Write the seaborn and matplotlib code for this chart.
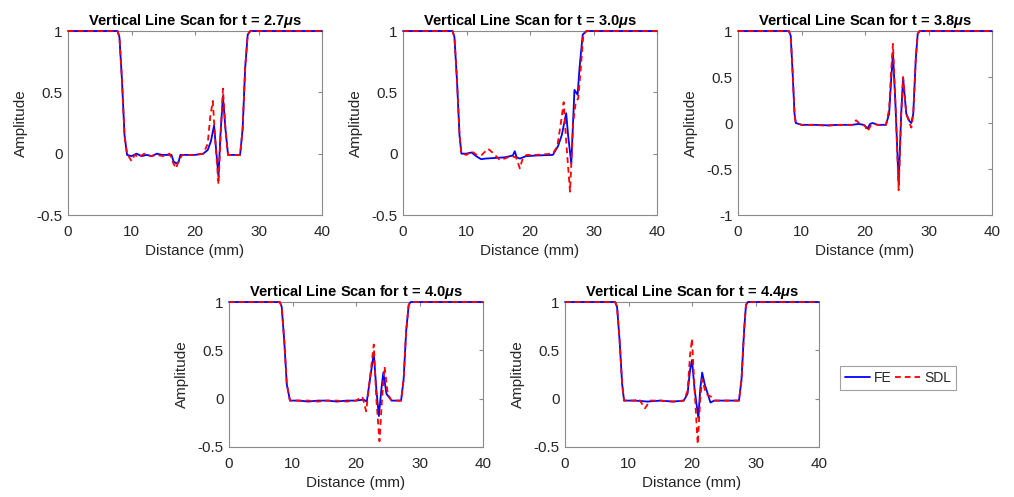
import numpy as np
import pandas as pd
import seaborn as sns
import matplotlib
matplotlib.use("Agg")
import matplotlib.pyplot as plt

# ---------------- data ----------------
titles = [r"Vertical Line Scan for t = 2.7$\mu$s",
          r"Vertical Line Scan for t = 3.0$\mu$s",
          r"Vertical Line Scan for t = 3.8$\mu$s",
          r"Vertical Line Scan for t = 4.0$\mu$s",
          r"Vertical Line Scan for t = 4.4$\mu$s"]

# t = 2.7 us
fe_x_27 = [0, 7.8, 8.1, 8.5, 8.9, 9.3, 10.0, 10.8, 11.6, 12.4, 13.2, 14.0, 14.8, 15.6, 16.3, 16.6, 17.0, 17.4, 17.7,
           18.5, 20.0, 21.3, 22.0, 22.5, 23.0, 23.3, 23.7, 24.0, 24.4, 24.8, 25.2, 27.1, 27.5, 27.9, 28.3, 28.7, 40]
fe_y_27 = [1, 1, 0.95, 0.6, 0.15, -0.01, -0.02, 0.0, -0.02, -0.01, -0.02, 0.0, -0.01, -0.01, -0.01, -0.06, -0.08,
           -0.07, -0.01, -0.01, -0.01, 0.0, 0.03, 0.1, 0.23, 0.05, -0.19, 0.15, 0.47, 0.2, -0.01, -0.01, 0.2, 0.7,
           0.97, 1, 1]
sdl_x_27 = [0, 7.8, 8.1, 8.5, 8.9, 9.3, 10.0, 10.5, 11.2, 12.0, 13.0, 14.0, 15.0, 16.0, 16.6, 17.0, 17.5, 18.0,
            20.0, 21.3, 22.0, 22.4, 22.8, 23.2, 23.7, 24.0, 24.4, 24.8, 25.2, 27.1, 27.5, 27.9, 28.3, 28.7, 40]
sdl_y_27 = [1, 1, 0.95, 0.6, 0.15, 0.0, -0.06, -0.01, -0.03, 0.0, -0.02, -0.01, -0.02, 0.0, -0.08, -0.12, -0.05,
            -0.01, -0.01, 0.0, 0.08, 0.3, 0.43, 0.1, -0.25, 0.1, 0.53, 0.2, -0.01, -0.01, 0.2, 0.7, 0.97, 1, 1]

# t = 3.0 us
fe_x_30 = [0, 7.8, 8.1, 8.5, 8.9, 9.2, 10.0, 10.8, 11.5, 12.3, 13.0, 14.5, 16.0, 17.3, 17.6, 17.9, 18.4, 19.4,
           21.0, 23.6, 24.4, 25.0, 25.7, 26.0, 26.5, 27.0, 27.5, 27.8, 28.3, 28.9, 40]
fe_y_30 = [1, 1, 0.95, 0.6, 0.15, 0.0, 0.0, 0.01, -0.02, -0.045, -0.04, -0.035, -0.03, -0.015, 0.02, -0.03,
           -0.04, -0.02, -0.015, -0.01, 0.06, 0.15, 0.33, 0.15, -0.08, 0.52, 0.48, 0.7, 0.97, 1, 1]
sdl_x_30 = [0, 7.8, 8.1, 8.5, 8.9, 9.2, 10.0, 10.8, 11.6, 12.4, 13.4, 14.3, 15.2, 16.0, 17.0, 17.8, 18.4, 18.9,
            19.5, 21.0, 23.6, 24.3, 25.0, 25.3, 25.7, 26.3, 26.8, 27.2, 27.6, 28.0, 28.4, 28.9, 40]
sdl_y_30 = [1, 1, 0.95, 0.6, 0.15, 0.0, -0.01, 0.02, -0.01, -0.01, 0.04, 0.0, -0.05, -0.04, -0.02, -0.03, -0.12,
            -0.03, -0.01, -0.01, 0.0, 0.06, 0.3, 0.42, 0.1, -0.31, 0.25, 0.42, 0.45, 0.7, 0.97, 1, 1]

# t = 3.8 us
fe_x_38 = [0, 8.0, 8.3, 8.6, 8.9, 9.1, 10.0, 12.0, 14.0, 16.0, 18.0, 19.0, 19.8, 20.4, 20.8, 21.2, 22.0, 23.3,
           23.8, 24.1, 24.4, 24.8, 25.3, 25.7, 26.0, 26.5, 27.0, 27.3, 27.6, 28.0, 28.3, 28.6, 40]
fe_y_38 = [1, 1, 0.95, 0.55, 0.1, 0.0, -0.02, -0.02, -0.025, -0.02, -0.02, -0.01, -0.02, -0.06, -0.01, 0.0,
           -0.02, -0.02, 0.1, 0.45, 0.76, 0.2, -0.67, 0.1, 0.49, 0.1, 0.02, 0.0, 0.1, 0.7, 0.97, 1, 1]
sdl_x_38 = [0, 8.0, 8.3, 8.6, 8.9, 9.1, 10.0, 12.0, 14.0, 16.0, 18.0, 18.6, 19.2, 20.0, 20.4, 20.9, 21.4, 22.0,
            23.3, 23.8, 24.1, 24.4, 24.8, 25.3, 25.7, 26.0, 26.5, 27.0, 27.3, 27.6, 28.0, 28.3, 28.6, 40]
sdl_y_38 = [1, 1, 0.95, 0.55, 0.1, 0.0, -0.02, -0.02, -0.03, -0.02, -0.02, 0.03, -0.01, -0.03, -0.09, -0.03,
            -0.01, -0.02, -0.02, 0.15, 0.55, 0.86, 0.2, -0.73, 0.1, 0.5, 0.1, 0.0, -0.05, 0.1, 0.7, 0.97, 1, 1]

# t = 4.0 us
fe_x_40 = [0, 8.0, 8.3, 8.7, 9.1, 9.6, 11.0, 12.5, 14.0, 15.5, 17.0, 18.5, 20.0, 21.2, 21.7, 22.2, 22.8, 23.2,
           23.6, 24.0, 24.3, 24.8, 25.6, 27.1, 27.5, 27.9, 28.3, 28.6, 40]
fe_y_40 = [1, 1, 0.95, 0.6, 0.15, -0.02, -0.02, -0.03, -0.02, -0.02, -0.03, -0.02, -0.02, -0.01, -0.03, 0.2,
           0.47, 0.1, -0.18, 0.1, 0.27, 0.05, -0.02, -0.02, 0.2, 0.7, 0.97, 1, 1]
sdl_x_40 = [0, 8.0, 8.3, 8.7, 9.1, 9.6, 11.0, 12.5, 14.0, 15.5, 17.0, 18.5, 20.0, 21.0, 21.6, 22.0, 22.8, 23.2,
            23.7, 24.1, 24.5, 25.0, 25.6, 27.1, 27.5, 27.9, 28.3, 28.6, 40]
sdl_y_40 = [1, 1, 0.95, 0.6, 0.15, -0.02, -0.02, -0.02, -0.03, -0.02, -0.02, -0.03, -0.02, 0.02, -0.13, 0.1,
            0.56, 0.0, -0.44, 0.0, 0.33, 0.05, -0.02, -0.02, 0.2, 0.7, 0.97, 1, 1]

# t = 4.4 us
fe_x_44 = [0, 7.9, 8.2, 8.6, 9.0, 9.3, 11.0, 13.0, 15.0, 17.0, 18.7, 19.3, 19.7, 20.0, 20.4, 21.0, 21.3, 21.6,
           22.0, 22.9, 23.5, 25.0, 27.4, 27.8, 28.2, 28.5, 28.8, 40]
fe_y_44 = [1, 1, 0.95, 0.6, 0.15, -0.02, -0.02, -0.03, -0.02, -0.03, -0.02, 0.05, 0.3, 0.40, 0.1, -0.2, 0.1,
           0.27, 0.15, -0.04, -0.02, -0.02, -0.02, 0.2, 0.7, 0.97, 1, 1]
sdl_x_44 = [0, 7.9, 8.2, 8.6, 9.0, 9.3, 11.0, 11.6, 12.6, 13.4, 15.0, 17.0, 18.7, 19.3, 19.7, 20.0, 20.4, 20.9,
            21.3, 21.6, 22.2, 23.0, 23.6, 25.0, 27.4, 27.8, 28.2, 28.5, 28.8, 40]
sdl_y_44 = [1, 1, 0.95, 0.6, 0.15, -0.02, -0.02, 0.0, -0.1, -0.02, -0.02, -0.03, -0.02, 0.08, 0.45, 0.62, 0.1,
            -0.47, 0.0, 0.2, 0.05, 0.02, -0.02, -0.02, -0.02, 0.2, 0.7, 0.97, 1, 1]

fe_x = [fe_x_27, fe_x_30, fe_x_38, fe_x_40, fe_x_44]
fe_y = [fe_y_27, fe_y_30, fe_y_38, fe_y_40, fe_y_44]
sdl_x = [sdl_x_27, sdl_x_30, sdl_x_38, sdl_x_40, sdl_x_44]
sdl_y = [sdl_y_27, sdl_y_30, sdl_y_38, sdl_y_40, sdl_y_44]

x_ticks = [0, 10, 20, 30, 40]
y_ticks = [[-0.5, 0, 0.5, 1], [-0.5, 0, 0.5, 1], [-1, -0.5, 0, 0.5, 1], [-0.5, 0, 0.5, 1], [-0.5, 0, 0.5, 1]]
y_ticklabels = [["-0.5", "0", "0.5", "1"], ["-0.5", "0", "0.5", "1"], ["-1", "-0.5", "0", "0.5", "1"],
                ["-0.5", "0", "0.5", "1"], ["-0.5", "0", "0.5", "1"]]
y_lims = [(-0.5, 1), (-0.5, 1), (-1, 1), (-0.5, 1), (-0.5, 1)]
series_names = ["FE", "SDL"]

# ---------------- style ----------------
sns.set_style("white")
plt.rcParams["font.family"] = ["Liberation Sans", "DejaVu Sans"]
plt.rcParams["mathtext.fontset"] = "custom"
plt.rcParams["mathtext.it"] = "Liberation Sans:italic:bold"
plt.rcParams["mathtext.rm"] = "Liberation Sans:bold"

spine_col = "#8a8a8a"
text_col = "#262626"

fig = plt.figure(figsize=(10.14, 4.97), dpi=100)
W, H = 1014, 497
boxes = [(68, 31, 254, 184), (403, 31, 254, 184), (738, 31, 254, 184),
         (229, 302, 254, 145), (565, 302, 254, 145)]

axes = []
for i, (l, t, w, h) in enumerate(boxes):
    ax = fig.add_axes([l / W, 1 - (t + h) / H, w / W, h / H])
    axes.append(ax)
    sns.lineplot(x=fe_x[i], y=fe_y[i], ax=ax, color="#0000ff", linewidth=1.3,
                 sort=False, estimator=None, label=series_names[0], clip_on=False, zorder=3)
    sns.lineplot(x=sdl_x[i], y=sdl_y[i], ax=ax, color="#ff0000", linewidth=1.3,
                 linestyle=(0, (3.2, 2.2)), sort=False, estimator=None, label=series_names[1],
                 clip_on=False, zorder=4)
    if ax.get_legend() is not None:
        ax.get_legend().remove()
    ax.set_xlim(0, 40)
    ax.set_ylim(*y_lims[i])
    ax.set_xticks(x_ticks)
    ax.set_xticklabels([str(v) for v in x_ticks])
    ax.set_yticks(y_ticks[i])
    ax.set_yticklabels(y_ticklabels[i])
    ax.tick_params(direction="in", length=3, width=0.8, top=True, right=True,
                   colors=spine_col, labelcolor=text_col, labelsize=11)
    ax.tick_params(axis="x", pad=7)
    ax.tick_params(axis="y", pad=4)
    for s in ax.spines.values():
        s.set_color(spine_col)
        s.set_linewidth(0.8)
        s.set_zorder(2)
    ax.set_xlabel("Distance (mm)", fontsize=11, color=text_col, labelpad=4)
    ax.set_ylabel("Amplitude", fontsize=11, color=text_col, labelpad=6)
    ax.set_title(titles[i], fontsize=10.5, fontweight="bold", color="black", pad=4)

handles, labels = axes[-1].get_legend_handles_labels()
leg = fig.legend(handles, labels, loc="center", bbox_to_anchor=(898 / W, 1 - 378 / H), ncol=2,
                 frameon=True, fancybox=False, edgecolor="#8a8a8a", fontsize=10, handlelength=1.8,
                 columnspacing=0.3, handletextpad=0.25, borderpad=0.35, borderaxespad=0)
leg.get_frame().set_linewidth(0.8)

fig.savefig("out.png", dpi=100)
